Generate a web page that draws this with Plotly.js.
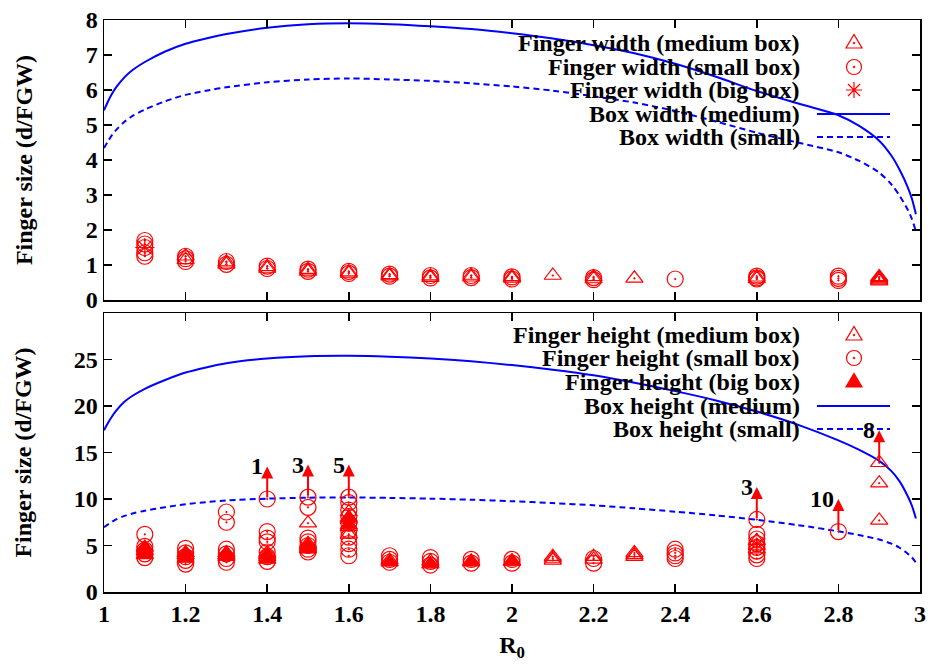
<!DOCTYPE html>
<html><head><meta charset="utf-8">
<script src="https://cdn.plot.ly/plotly-3.0.1.min.js"></script>
<style>html,body{margin:0;padding:0;background:#fff}#chart{width:928px;height:665px}</style>
</head><body><div id="chart"></div>
<script>
// ---- curve samples ----
const curveX = [1.0,1.01,1.02,1.03,1.05,1.07,1.1,1.15,1.2,1.25,1.3,1.4,1.5,1.6,1.7,1.8,1.9,2.0,2.1,2.2,2.3,2.4,2.5,2.6,2.7,2.8,2.85,2.9,2.93,2.95,2.97,2.98,2.99];
const boxWidthMedium = [5.42,5.68,5.9,6.08,6.36,6.57,6.8,7.1,7.32,7.47,7.6,7.78,7.88,7.91,7.88,7.82,7.74,7.62,7.47,7.28,7.05,6.75,6.38,5.97,5.62,5.28,4.98,4.55,4.12,3.72,3.22,2.9,2.45];
const boxWidthSmall = [4.34,4.54,4.72,4.86,5.09,5.26,5.44,5.68,5.86,5.98,6.08,6.22,6.3,6.33,6.3,6.26,6.19,6.1,5.98,5.82,5.64,5.4,5.1,4.78,4.5,4.22,3.98,3.64,3.3,2.98,2.58,2.32,1.96];
const boxHeightMedium = [17.4,18.2,18.9,19.5,20.45,21.1,21.85,22.8,23.6,24.15,24.6,25.1,25.35,25.4,25.3,25.1,24.8,24.4,23.9,23.3,22.5,21.6,20.6,19.4,18.0,16.3,15.3,14.1,13.0,11.9,10.3,9.3,7.9];
const boxHeightSmall = [6.96,7.28,7.56,7.8,8.18,8.44,8.74,9.12,9.44,9.66,9.84,10.04,10.14,10.16,10.12,10.04,9.92,9.76,9.56,9.32,9.0,8.64,8.24,7.76,7.2,6.52,6.12,5.64,5.2,4.76,4.12,3.72,3.16];

// ---- finger width (top panel) ----
const wMedX = [1.2,1.2,1.3,1.3,1.4,1.4,1.5,1.5,1.6,1.6,1.7,1.7,1.8,1.8,1.9,1.9,2.0,2.0,2.1,2.2,2.2,2.3,2.6,2.6,2.9,2.9,2.9,2.9,2.9];
const wMedY = [1.25,1.15,1.08,1.02,0.95,0.9,0.87,0.82,0.8,0.76,0.72,0.68,0.68,0.64,0.7,0.65,0.66,0.62,0.7,0.66,0.6,0.62,0.65,0.6,0.66,0.63,0.6,0.57,0.54];
const wSmallX = [1.1,1.1,1.1,1.1,1.1,1.2,1.2,1.2,1.3,1.3,1.4,1.4,1.5,1.5,1.6,1.6,1.7,1.7,1.8,1.8,1.9,1.9,2.0,2.0,2.2,2.2,2.4,2.6,2.6,2.6,2.8,2.8,2.8];
const wSmallY = [1.7,1.6,1.5,1.35,1.25,1.25,1.18,1.1,1.1,1.02,0.97,0.9,0.88,0.82,0.82,0.76,0.74,0.68,0.7,0.63,0.7,0.64,0.66,0.6,0.64,0.58,0.6,0.68,0.63,0.6,0.68,0.62,0.56];
const wBigX = [1.1];
const wBigY = [1.5];

// ---- finger height (bottom panel) ----
const hMedX = [1.2,1.3,1.4,1.4,1.5,1.5,1.5,1.6,1.6,1.6,1.6,1.7,1.8,1.9,2.0,2.1,2.1,2.1,2.2,2.2,2.3,2.3,2.3,2.6,2.6,2.6,2.9,2.9,2.9];
const hMedY = [4.0,4.0,4.2,3.8,7.4,5.2,4.8,8.6,7.8,7.0,6.2,3.4,3.3,3.3,3.3,3.8,3.6,3.4,3.8,3.5,4.2,4.0,3.8,5.5,5.0,4.6,13.9,11.7,7.7];
const hSmallX = [1.1,1.1,1.1,1.1,1.1,1.2,1.2,1.2,1.2,1.2,1.3,1.3,1.3,1.3,1.3,1.3,1.4,1.4,1.4,1.4,1.4,1.4,1.4,1.5,1.5,1.5,1.5,1.5,1.5,1.5,1.6,1.6,1.6,1.6,1.6,1.6,1.6,1.6,1.6,1.6,1.7,1.7,1.7,1.8,1.8,1.8,1.9,1.9,2.0,2.0,2.2,2.2,2.4,2.4,2.4,2.4,2.6,2.6,2.6,2.6,2.6,2.6,2.6,2.6,2.8];
const hSmallY = [6.2,4.9,4.5,4.1,3.7,4.7,4.2,3.8,3.4,3.0,8.6,7.5,4.6,4.1,3.6,3.2,10.0,6.5,5.8,5.4,4.3,3.8,3.3,10.2,9.1,5.8,5.4,5.0,4.6,4.3,10.2,9.6,8.8,8.1,7.4,6.6,5.9,5.2,4.6,3.9,3.9,3.5,3.2,3.7,3.3,2.9,3.5,3.1,3.5,3.1,3.6,3.1,4.6,4.2,3.9,3.6,7.8,6.2,5.7,5.2,4.8,4.4,4.0,3.6,6.5];
const hBigX = [1.1,1.1,1.1,1.2,1.2,1.3,1.3,1.4,1.4,1.5,1.5,1.6,1.6,1.7,1.8,1.9,2.0];
const hBigY = [4.8,4.4,4.0,4.2,3.6,4.2,3.8,4.0,3.5,5.0,4.6,8.0,7.2,3.2,3.0,3.2,3.3];

// ---- arrows (lower bounds) ----
const arrowX = [1.4,1.5,1.6,2.6,2.8,2.9];
const arrowBase = [10.0,10.2,10.2,7.8,6.5,13.9];
const arrowLabels = ['1','3','5','3','10','8'];
const arrowLen = 3.5;

// ---- legend texts ----
const legendTop = ['Finger width (medium box)','Finger width (small box)','Finger width (big box)','Box width (medium)','Box width (small)'];
const legendBottom = ['Finger height (medium box)','Finger height (small box)','Finger height (big box)','Box height (medium)','Box height (small)'];

const RED = '#ff0000', BLUE = '#0000ff';
const FONT = {family:'Liberation Serif, Times New Roman, serif', size:24, color:'#000', weight:'bold'};
const L=104, R=8, T=20, B=73, WW=928, HH=665;
const PW = WW-L-R, PH = HH-T-B;
const fx = px => (px-L)/PW;
const fy = py => (HH-B-py)/PH;

function curve(x,y,dash,xa,ya){return {x:x,y:y,xaxis:xa,yaxis:ya,mode:'lines',type:'scatter',line:{color:BLUE,width:2,dash:dash,shape:'spline',smoothing:0.8},hoverinfo:'skip'};}
function pts(x,y,sym,size,xa,ya){return {x:x,y:y,xaxis:xa,yaxis:ya,mode:'markers',type:'scatter',marker:{symbol:sym,size:size,color:RED,line:{color:RED,width:1.2}},hoverinfo:'skip'};}

const data = [
  curve(curveX,boxWidthMedium,'solid','x','y'),
  curve(curveX,boxWidthSmall,'6px,4px','x','y'),
  curve(curveX,boxHeightMedium,'solid','x2','y2'),
  curve(curveX,boxHeightSmall,'6px,4px','x2','y2'),
  pts(wMedX,wMedY,'triangle-up-open-dot',15,'x','y'),
  pts(wSmallX,wSmallY,'circle-open-dot',16,'x','y'),
  pts(wBigX,wBigY,'asterisk-open',16,'x','y'),
  pts(hMedX,hMedY,'triangle-up-open-dot',15,'x2','y2'),
  pts(hSmallX,hSmallY,'circle-open-dot',16,'x2','y2'),
  pts(hBigX,hBigY,'triangle-up',15,'x2','y2')
];

const axBase = {showgrid:false,zeroline:false,showline:true,linecolor:'#000',linewidth:1.5,mirror:'allticks',ticks:'inside',ticklen:8,tickwidth:1.5,tickcolor:'#000',tickfont:FONT};
const layout = {
  width:WW,height:HH,margin:{l:L,r:R,t:T,b:B},paper_bgcolor:'#fff',plot_bgcolor:'#fff',
  font:FONT,showlegend:false,
  xaxis:Object.assign({},axBase,{domain:[0,1],range:[1,3],anchor:'y',tick0:1,dtick:0.2,showticklabels:false}),
  xaxis2:Object.assign({},axBase,{domain:[0,1],range:[1,3],anchor:'y2',tick0:1,dtick:0.2,
    title:{text:'R<sub>0</sub>',font:FONT,standoff:10}}),
  yaxis:Object.assign({},axBase,{domain:[fy(300),1],range:[0,8],dtick:1,anchor:'x',
    title:{text:'Finger size (d/FGW)',font:FONT,standoff:46}}),
  yaxis2:Object.assign({},axBase,{domain:[0,fy(313)],range:[0,30],tickvals:[0,5,10,15,20,25],anchor:'x2',
    title:{text:'Finger size (d/FGW)',font:FONT,standoff:35}}),
  annotations:[],shapes:[]
};

// arrows + labels
arrowX.forEach((x,i)=>{
  layout.annotations.push({xref:'x2',yref:'y2',axref:'x2',ayref:'y2',x:x,y:arrowBase[i]+arrowLen,ax:x,ay:arrowBase[i],
    text:'',showarrow:true,arrowhead:2,arrowsize:1.2,arrowwidth:2,arrowcolor:RED,standoff:0,startstandoff:0});
  layout.annotations.push({xref:'x2',yref:'y2',x:x,y:arrowBase[i]+arrowLen,text:arrowLabels[i],showarrow:false,
    xanchor:'right',yanchor:'middle',xshift:-2,font:FONT});
});

// custom gnuplot-style key
const rowsTop = [43,67,90,114,137], rowsBot = [335,358,382,406,429];
const keyTextX = 802, keySymX = 854, keyLine0 = 817, keyLine1 = 890;
function keyText(txt,py){layout.annotations.push({xref:'paper',yref:'paper',x:fx(keyTextX),y:fy(py),text:txt,showarrow:false,xanchor:'right',yanchor:'middle',font:FONT});}
function sym(kind,py){
  const base = {xref:'paper',yref:'paper',xsizemode:'pixel',ysizemode:'pixel',xanchor:fx(keySymX),yanchor:fy(py),layer:'above'};
  if(kind==='circle'){
    layout.shapes.push(Object.assign({},base,{type:'circle',x0:-7.5,x1:7.5,y0:-7.5,y1:7.5,line:{color:RED,width:1.2}}));
    layout.shapes.push(Object.assign({},base,{type:'circle',x0:-1,x1:1,y0:-1,y1:1,fillcolor:RED,line:{color:RED,width:0.5}}));
  } else if(kind==='tri'){
    layout.shapes.push(Object.assign({},base,{type:'path',path:'M-8,-5 L8,-5 L0,8.5 Z',line:{color:RED,width:1.2}}));
    layout.shapes.push(Object.assign({},base,{type:'circle',x0:-1,x1:1,y0:-1,y1:1,fillcolor:RED,line:{color:RED,width:0.5}}));
  } else if(kind==='ftri'){
    layout.shapes.push(Object.assign({},base,{type:'path',path:'M-8,-5 L8,-5 L0,8.5 Z',fillcolor:RED,line:{color:RED,width:1.2}}));
  } else if(kind==='star'){
    layout.shapes.push(Object.assign({},base,{type:'path',path:'M-8,0 L8,0 M0,-8 L0,8 M-6,-6 L6,6 M-6,6 L6,-6',line:{color:RED,width:1.2}}));
  }
}
function keyLine(py,dash){layout.shapes.push({type:'line',xref:'paper',yref:'paper',x0:fx(keyLine0),x1:fx(keyLine1),y0:fy(py),y1:fy(py),line:{color:BLUE,width:2,dash:dash},layer:'above'});}

legendTop.forEach((t,i)=>keyText(t,rowsTop[i]));
legendBottom.forEach((t,i)=>keyText(t,rowsBot[i]));
sym('tri',rowsTop[0]); sym('circle',rowsTop[1]); sym('star',rowsTop[2]);
keyLine(rowsTop[3],'solid'); keyLine(rowsTop[4],'6px,4px');
sym('tri',rowsBot[0]); sym('circle',rowsBot[1]); sym('ftri',rowsBot[2]);
keyLine(rowsBot[3],'solid'); keyLine(rowsBot[4],'6px,4px');

Plotly.newPlot('chart',data,layout,{staticPlot:true,displayModeBar:false});
</script></body></html>
